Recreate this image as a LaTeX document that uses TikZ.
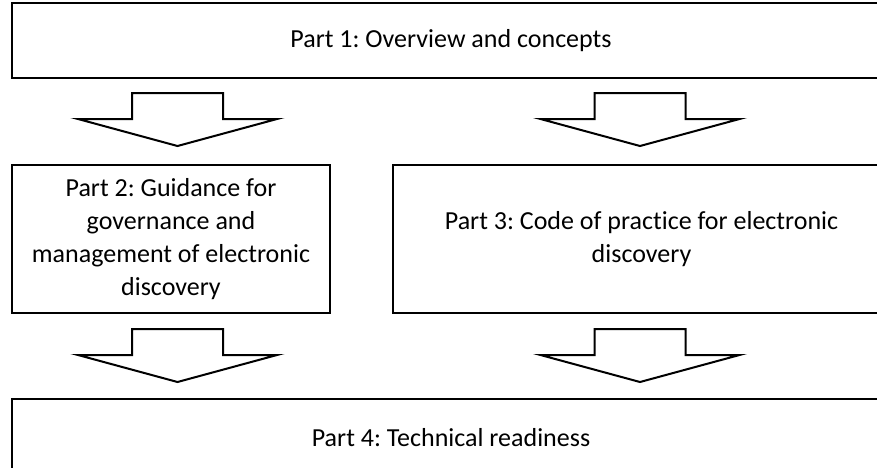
\documentclass[tikz,border=0pt]{standalone}
\usepackage{fontspec}
\setmainfont{Carlito}[Ligatures=NoCommon]
\frenchspacing
\tikzset{
  partbox/.style={draw, line width=2pt, rectangle, align=center,
    font=\fontsize{26}{33}\selectfont, inner sep=0pt},
  pics/downarrow/.style={
    code={
      \draw [line width=2pt, line join=miter, fill=white]
        (-45.5, 0) -- (45.5, 0) -- (45.5, 26) -- (99.5, 26) -- (0, 53)
        -- (-99.5, 26) -- (-45.5, 26) -- cycle;
    }
  }
}
\begin{document}
\begin{tikzpicture}[x=1pt, y=-1pt]
  \useasboundingbox (0, 0) rectangle (877, 467);
  \clip (0, 0) rectangle (877, 467);
  \node [partbox, minimum width=878pt, minimum height=75pt] (p1) at (451, 40.5)
    {Part 1: Overview and concepts};
  \node [partbox, minimum width=318pt, minimum height=148pt] (p2) at (171, 239)
    {Part 2: Guidance for\\ governance and\\ management of electronic\\ discovery};
  \node [partbox, minimum width=497pt, minimum height=148pt] (p3) at (641.5, 239)
    {Part 3: Code of practice for electronic\\ discovery};
  \node [partbox, minimum width=878pt, minimum height=77pt] (p4) at (451, 437.5)
    {Part 4: Technical readiness};
  % block arrows between the parts
  \pic at (177.5, 93) {downarrow};
  \pic at (640, 93) {downarrow};
  \pic at (177.5, 329) {downarrow};
  \pic at (640, 329) {downarrow};
\end{tikzpicture}
\end{document}
